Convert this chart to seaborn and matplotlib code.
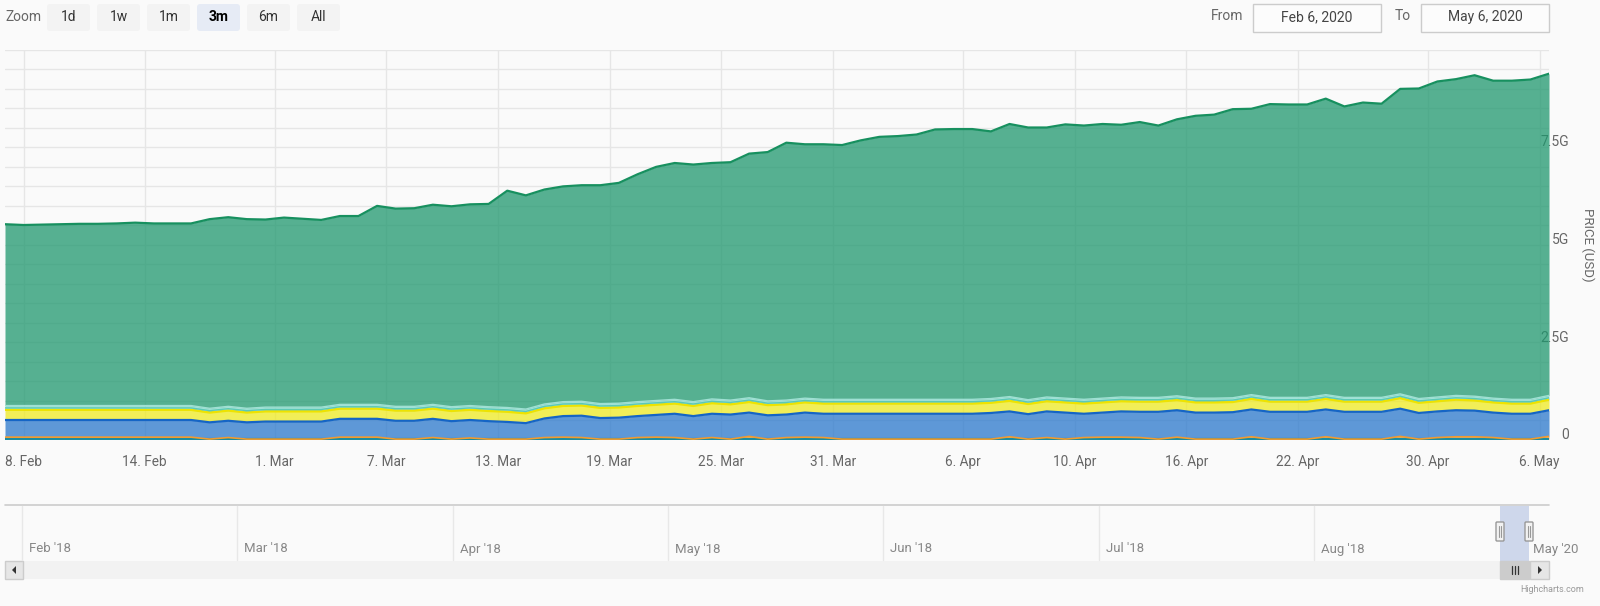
import numpy as np
import pandas as pd
import matplotlib
matplotlib.use("Agg")
import matplotlib.pyplot as plt
import seaborn as sns
from matplotlib import font_manager as fm
from matplotlib.patches import FancyBboxPatch, Rectangle, Polygon
from matplotlib.transforms import ScaledTranslation

# ---------------- data (billions USD, one value per data point) ----------------
total_top = [5.52, 5.50, 5.51, 5.52, 5.53, 5.53, 5.54, 5.56, 5.54, 5.54,
             5.54, 5.65, 5.70, 5.65, 5.64, 5.69, 5.66, 5.63, 5.73, 5.73,
             5.99, 5.92, 5.93, 6.02, 5.98, 6.03, 6.04, 6.38, 6.26, 6.41,
             6.49, 6.52, 6.52, 6.58, 6.80, 6.99, 7.09, 7.05, 7.09, 7.11,
             7.33, 7.37, 7.61, 7.57, 7.57, 7.55, 7.67, 7.76, 7.78, 7.82,
             7.95, 7.96, 7.96, 7.90, 8.09, 8.00, 8.00, 8.08, 8.05, 8.09,
             8.07, 8.14, 8.05, 8.21, 8.30, 8.33, 8.47, 8.48, 8.60, 8.59,
             8.59, 8.74, 8.54, 8.64, 8.61, 8.99, 9.00, 9.18, 9.24, 9.34,
             9.20, 9.20, 9.23, 9.38]

teal_base = [0.01, 0.01, 0.01, 0.01, 0.01, 0.01, 0.01, 0.01, 0.01, 0.01,
             0.01, 0.01, 0.01, 0.01, 0.01, 0.01, 0.01, 0.01, 0.01, 0.01,
             0.01, 0.01, 0.01, 0.01, 0.01, 0.01, 0.01, 0.01, 0.01, 0.01,
             0.01, 0.01, 0.01, 0.01, 0.01, 0.01, 0.01, 0.01, 0.01, 0.01,
             0.01, 0.01, 0.01, 0.01, 0.01, 0.01, 0.01, 0.01, 0.01, 0.01,
             0.01, 0.01, 0.01, 0.01, 0.01, 0.01, 0.01, 0.01, 0.01, 0.01,
             0.01, 0.01, 0.01, 0.01, 0.01, 0.01, 0.01, 0.01, 0.01, 0.01,
             0.01, 0.01, 0.01, 0.01, 0.01, 0.01, 0.01, 0.01, 0.01, 0.01,
             0.01, 0.01, 0.01, 0.01]

orange = [0.05, 0.05, 0.05, 0.05, 0.05, 0.05, 0.05, 0.05, 0.05, 0.05,
          0.05, 0.00, 0.04, 0.00, 0.00, 0.00, 0.00, 0.00, 0.05, 0.05,
          0.05, 0.00, 0.00, 0.04, 0.00, 0.03, 0.00, 0.00, 0.00, 0.04,
          0.05, 0.04, 0.00, 0.00, 0.04, 0.05, 0.04, 0.00, 0.04, 0.00,
          0.07, 0.00, 0.04, 0.05, 0.04, 0.00, 0.00, 0.00, 0.00, 0.00,
          0.00, 0.00, 0.00, 0.00, 0.06, 0.00, 0.04, 0.00, 0.04, 0.05,
          0.05, 0.04, 0.00, 0.05, 0.00, 0.00, 0.00, 0.06, 0.00, 0.00,
          0.00, 0.06, 0.00, 0.00, 0.00, 0.07, 0.00, 0.04, 0.06, 0.06,
          0.04, 0.00, 0.00, 0.07]

blue = [0.44, 0.44, 0.44, 0.44, 0.44, 0.44, 0.44, 0.44, 0.44, 0.44,
        0.44, 0.43, 0.43, 0.43, 0.45, 0.45, 0.45, 0.45, 0.47, 0.47,
        0.47, 0.47, 0.47, 0.48, 0.46, 0.46, 0.46, 0.44, 0.41, 0.49,
        0.54, 0.56, 0.54, 0.55, 0.55, 0.57, 0.61, 0.59, 0.61, 0.63,
        0.61, 0.61, 0.59, 0.63, 0.61, 0.65, 0.65, 0.65, 0.65, 0.65,
        0.65, 0.65, 0.65, 0.67, 0.65, 0.64, 0.67, 0.68, 0.61, 0.63,
        0.66, 0.66, 0.70, 0.69, 0.68, 0.68, 0.69, 0.70, 0.70, 0.70,
        0.70, 0.70, 0.70, 0.70, 0.70, 0.71, 0.67, 0.67, 0.68, 0.67,
        0.64, 0.65, 0.65, 0.67]

yellow = [0.26, 0.26, 0.26, 0.26, 0.26, 0.26, 0.26, 0.26, 0.26, 0.26,
          0.26, 0.25, 0.26, 0.25, 0.26, 0.26, 0.26, 0.26, 0.26, 0.26,
          0.26, 0.26, 0.26, 0.26, 0.26, 0.26, 0.26, 0.26, 0.25, 0.26,
          0.26, 0.26, 0.26, 0.26, 0.26, 0.26, 0.26, 0.26, 0.27, 0.26,
          0.27, 0.26, 0.26, 0.26, 0.26, 0.26, 0.26, 0.26, 0.26, 0.26,
          0.26, 0.26, 0.26, 0.26, 0.27, 0.26, 0.26, 0.26, 0.26, 0.26,
          0.26, 0.26, 0.26, 0.26, 0.26, 0.26, 0.26, 0.27, 0.26, 0.26,
          0.26, 0.27, 0.26, 0.26, 0.26, 0.27, 0.26, 0.26, 0.27, 0.26,
          0.26, 0.26, 0.26, 0.27]

teal_mid = [0.05, 0.05, 0.05, 0.05, 0.05, 0.05, 0.05, 0.05, 0.05, 0.05,
            0.05, 0.05, 0.05, 0.05, 0.05, 0.05, 0.05, 0.05, 0.05, 0.05,
            0.05, 0.05, 0.05, 0.05, 0.05, 0.05, 0.05, 0.05, 0.05, 0.05,
            0.05, 0.05, 0.05, 0.05, 0.05, 0.05, 0.05, 0.05, 0.05, 0.05,
            0.05, 0.05, 0.05, 0.05, 0.05, 0.05, 0.05, 0.05, 0.05, 0.05,
            0.05, 0.05, 0.05, 0.05, 0.05, 0.05, 0.05, 0.05, 0.05, 0.05,
            0.05, 0.05, 0.05, 0.05, 0.05, 0.05, 0.05, 0.05, 0.05, 0.05,
            0.05, 0.05, 0.05, 0.05, 0.05, 0.05, 0.05, 0.05, 0.05, 0.05,
            0.05, 0.05, 0.05, 0.05]

teal_light = [0.06, 0.06, 0.06, 0.06, 0.06, 0.06, 0.06, 0.06, 0.06, 0.06,
              0.06, 0.06, 0.06, 0.06, 0.06, 0.06, 0.06, 0.06, 0.06, 0.06,
              0.06, 0.06, 0.06, 0.06, 0.06, 0.06, 0.06, 0.06, 0.06, 0.06,
              0.06, 0.06, 0.06, 0.06, 0.06, 0.06, 0.06, 0.06, 0.06, 0.06,
              0.06, 0.06, 0.06, 0.06, 0.06, 0.06, 0.06, 0.06, 0.06, 0.06,
              0.06, 0.06, 0.06, 0.06, 0.06, 0.06, 0.06, 0.06, 0.06, 0.06,
              0.06, 0.06, 0.06, 0.06, 0.06, 0.06, 0.06, 0.06, 0.06, 0.06,
              0.06, 0.06, 0.06, 0.06, 0.06, 0.06, 0.06, 0.06, 0.06, 0.06,
              0.06, 0.06, 0.06, 0.06]

x_tick_pos = [1.0, 7.5, 14.5, 20.5, 26.5, 32.5, 38.5, 44.5, 51.5, 57.5, 63.5, 69.5, 76.5, 82.5]
x_tick_labels = ["8. Feb", "14. Feb", "1. Mar", "7. Mar", "13. Mar", "19. Mar", "25. Mar",
                 "31. Mar", "6. Apr", "10. Apr", "16. Apr", "22. Apr", "30. Apr", "6. May"]
y_label_values = [0, 2.5, 5, 7.5]
y_label_texts = ["0", "2.5G", "5G", "7.5G"]
zoom_buttons = ["1d", "1w", "1m", "3m", "6m", "All"]
selected_button = "3m"
date_from = "Feb 6, 2020"
date_to = "May 6, 2020"
nav_labels = ["Feb '18", "Mar '18", "Apr '18", "May '18", "Jun '18", "Jul '18", "Aug '18"]
nav_end_label = "May '20"

# ---------------- styling ----------------
sns.set_theme(style="white")
available = {f.name for f in fm.fontManager.ttflist}
FONT = "DejaVu Sans"
for cand in ["Liberation Sans Narrow", "Roboto", "DejaVu Sans"]:
    if cand in available:
        FONT = cand
        break
plt.rcParams["font.family"] = [FONT, "DejaVu Sans"]

BG = "#fafafa"
TXT = "#666666"
W, H = 1600, 606

fig = plt.figure(figsize=(W / 100, H / 100), dpi=100, facecolor=BG)

# main plot area in pixels
L, R, T, B = 5, 1549, 49.5, 439.5
ax = fig.add_axes([L / W, 1 - B / H, (R - L) / W, (B - T) / H])
ax.set_facecolor(BG)

idx = np.arange(len(total_top))
df = pd.DataFrame({
    "idx": idx,
    "teal_base": teal_base,
    "orange": orange,
    "blue": blue,
    "yellow": yellow,
    "teal_mid": teal_mid,
    "teal_light": teal_light,
    "total": total_top,
})
lower_sum = df[["teal_base", "orange", "blue", "yellow", "teal_mid", "teal_light"]].sum(axis=1)
df["green"] = df["total"] - lower_sum

layers = [
    ("teal_base", "#1b8ca0", "#1b8ca0", 1.6),
    ("orange", "#f39b2e", "#f39b2e", 1.2),
    ("blue", "#2a78cc", "#1565c6", 1.6),
    ("yellow", "#efea22", "#eee300", 1.6),
    ("teal_mid", "#3fbfa9", "#5cc9b6", 1.0),
    ("teal_light", "#86dccd", "#9fe0d3", 1.0),
    ("green", "#1f976e", "#17905f", 1.6),
]

base = np.zeros(len(df))
for name, fill_c, line_c, lw in layers:
    top = base + df[name].to_numpy()
    ax.fill_between(df["idx"], base, top, color=fill_c, alpha=0.75, lw=0, zorder=2)
    sns.lineplot(x=df["idx"], y=top, ax=ax, color=line_c, lw=lw, zorder=3)
    base = top

ax.set_xlim(0, len(df) - 1)
ax.set_ylim(0, 10)

# grid
grid_vals = np.arange(0, 10.01, 0.5)
ax.set_yticks(grid_vals)
ax.set_yticklabels([y_label_texts[y_label_values.index(v)] if v in y_label_values else "" for v in grid_vals])
ax.set_xticks(x_tick_pos)
ax.set_xticklabels(x_tick_labels)
ax.set_axisbelow(True)
ax.grid(True, axis="both", color="#e6e6e6", lw=1)
for s in ax.spines.values():
    s.set_visible(False)
ax.set_xlabel("")
ax.set_ylabel("")

ax.tick_params(axis="x", length=7.5, width=1, color="#ccd6eb", pad=4, labelsize=9.8, labelcolor=TXT)
ax.yaxis.tick_right()
ax.tick_params(axis="y", right=False, left=False, length=0, pad=14.4, labelsize=10, labelcolor=TXT)
for lab in ax.get_yticklabels():
    lab.set_horizontalalignment("right")
    lab.set_transform(lab.get_transform() + ScaledTranslation(0, 0.06, fig.dpi_scale_trans))

fig.text(1588 / W, 1 - 245 / H, "PRICE (USD)", rotation=270, ha="center", va="center",
         fontsize=9.5, color=TXT)

# ---------------- UI overlay (pixel coordinates) ----------------
ui = fig.add_axes([0, 0, 1, 1])
ui.set_xlim(0, W)
ui.set_ylim(H, 0)
ui.axis("off")
ui.patch.set_alpha(0)

ui.text(5, 17, "Zoom", ha="left", va="center", fontsize=10, color=TXT)
btn_x0 = 47
for i, b in enumerate(zoom_buttons):
    x0 = btn_x0 + i * 50
    sel = (b == selected_button)
    ui.add_patch(FancyBboxPatch((x0, 4), 43, 27, boxstyle="round,pad=0,rounding_size=3",
                                fc="#e6ebf5" if sel else "#f3f3f3", ec="none"))
    ui.text(x0 + 21.5, 17, b, ha="center", va="center", fontsize=10,
            color="#000000" if sel else "#333333", fontweight="bold" if sel else "normal")

ui.text(1227, 16, "From", ha="center", va="center", fontsize=10, color=TXT)
ui.add_patch(Rectangle((1253, 3.5), 128, 28, fc="#fcfcfc", ec="#cccccc", lw=1))
ui.text(1317, 17, date_from, ha="center", va="center", fontsize=10, color="#444444")
ui.text(1403, 16, "To", ha="center", va="center", fontsize=10, color=TXT)
ui.add_patch(Rectangle((1421, 3.5), 128, 28, fc="#fcfcfc", ec="#cccccc", lw=1))
ui.text(1485, 17, date_to, ha="center", va="center", fontsize=10, color="#444444")

# navigator
ui.plot([L, R], [505, 505], color="#cccccc", lw=1.2)
nav_x0, nav_step = 22, 215.3
for i, lab in enumerate(nav_labels):
    gx = nav_x0 + i * nav_step
    ui.plot([gx, gx], [506, 560], color="#e8e8e8", lw=1)
    ui.text(gx + 7, 549, lab, ha="left", va="center", fontsize=9.5, color="#888888")
ui.add_patch(Rectangle((1500, 505.5), 29, 55, fc="#ccd6eb", ec="none", alpha=0.95))
ui.text(1533, 549, nav_end_label, ha="left", va="center", fontsize=9.5, color="#888888")
for hx in (1500, 1529):
    ui.add_patch(FancyBboxPatch((hx - 4, 522), 8, 19, boxstyle="round,pad=0,rounding_size=1",
                                fc="#f2f2f2", ec="#999999", lw=1))
    ui.plot([hx - 1.2, hx - 1.2], [526, 537], color="#999999", lw=0.8)
    ui.plot([hx + 1.2, hx + 1.2], [526, 537], color="#999999", lw=0.8)

# scrollbar
ui.add_patch(Rectangle((L, 561), R - L, 18, fc="#f2f2f2", ec="none"))
ui.add_patch(Rectangle((L, 561), 18, 18, fc="#e6e6e6", ec="#cccccc", lw=1))
ui.add_patch(Polygon([(L + 11, 566), (L + 11, 574), (L + 7, 570)], closed=True, fc="#333333", ec="none"))
ui.add_patch(Rectangle((1500, 561), 29, 18, fc="#cccccc", ec="#cccccc", lw=1))
for dx in (-3, 0, 3):
    ui.plot([1514.5 + dx, 1514.5 + dx], [566, 574], color="#333333", lw=0.9)
ui.add_patch(Rectangle((R - 19, 561), 19, 18, fc="#e6e6e6", ec="#cccccc", lw=1))
ui.add_patch(Polygon([(R - 11, 566), (R - 11, 574), (R - 7, 570)], closed=True, fc="#333333", ec="none"))

ui.text(1584, 590, "Highcharts.com", ha="right", va="center", fontsize=6.5, color="#999999")

fig.savefig("out.png", dpi=100, facecolor=BG)
